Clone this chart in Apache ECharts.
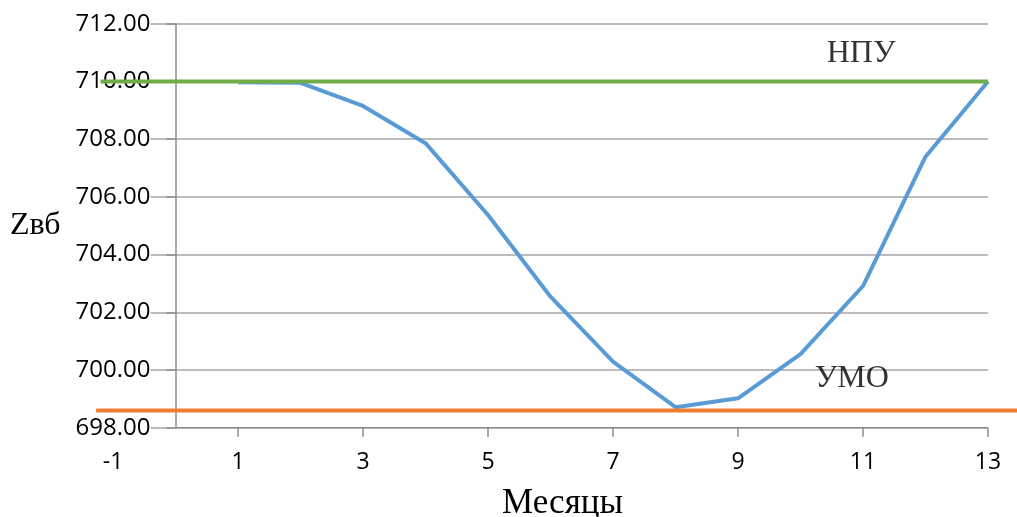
<!DOCTYPE html>
<html>
<head>
<meta charset="utf-8">
<style>
  html, body { margin: 0; padding: 0; background: #ffffff; }
  #chart { width: 1017px; height: 517px; }
</style>
<script src="https://cdn.jsdelivr.net/npm/echarts@6/dist/echarts.min.js"></script>
</head>
<body>
<div id="chart"></div>
<script>
// Reservoir level by month
const months = [1, 2, 3, 4, 5, 6, 7, 8, 9, 10, 11, 12, 13];
const levels = [709.97, 709.95, 709.15, 707.86, 705.37, 702.54, 700.29, 698.71, 699.02, 700.55, 702.91, 707.39, 710.0];

// Reference levels: normal headwater (НПУ) and dead storage level (УМО)
const npuLevel = 710.0;
const umoLevel = 698.6;
const npuSpan = [-1.2, 13];
const umoSpan = [-1.27, 14.5];

// Axis settings
const xMin = -1, xMax = 13, xStep = 2;
const yMin = 698, yMax = 712, yStep = 2;
const xTickValues = [1, 3, 5, 7, 9, 11, 13];
const xAxisBaseSpan = [0.008, 13];

// Label anchors (data units)
const npuLabelAt = [10.97, 710.95];
const umoLabelAt = [10.82, 699.69];

const labelFont = 'Open Sans';
const serifFont = 'Liberation Serif';
const axisGray = '#8c8c8c';
const gridGray = '#a6a6a6';

const chartWidth = 1017;
const gridLeft = 113, gridRight = 29, gridTop = 23.7, gridBottom = 89.3;

const chart = echarts.init(document.getElementById('chart'), null, { renderer: 'canvas' });

// The vertical axis crosses the horizontal one at x = 0: shift it there
const plotWidth = chartWidth - gridLeft - gridRight;
const unitPx = plotWidth / (xMax - xMin);
const yAxisShift = unitPx * (0 - xMin);

// A second, full-width overlay grid with the same scale, for the level lines
// that run past the plot edges
const wideMin = xMin - gridLeft / unitPx;
const wideMax = xMax + gridRight / unitPx;

const option = {
  backgroundColor: '#ffffff',
  animation: false,
  grid: [
    { left: gridLeft, right: gridRight, top: gridTop, bottom: gridBottom, containLabel: false, outerBoundsMode: 'none' },
    { left: 0, right: 0, top: gridTop, bottom: gridBottom, containLabel: false, outerBoundsMode: 'none' }
  ],
  xAxis: [
    {
      type: 'value',
      gridIndex: 0,
      min: xMin, max: xMax, interval: xStep,
      name: 'Месяцы',
      nameLocation: 'middle',
      nameGap: 59,
      nameTextStyle: { fontFamily: serifFont, fontSize: 35, color: '#000', padding: [0, 0, 0, 24] },
      axisLine: { show: false },
      axisTick: { show: true, length: 9, customValues: xTickValues, lineStyle: { color: axisGray, width: 1.5 } },
      axisLabel: { margin: 23, fontFamily: labelFont, fontSize: 23, color: '#000' },
      splitLine: { show: false }
    },
    {
      type: 'value',
      gridIndex: 1,
      min: wideMin, max: wideMax,
      show: false
    }
  ],
  yAxis: [
    {
      type: 'value',
      gridIndex: 0,
      min: yMin, max: yMax, interval: yStep,
      z: 1,
      offset: -yAxisShift,
      name: 'Zвб',
      nameLocation: 'middle',
      nameRotate: 0,
      nameGap: 115,
      nameTextStyle: { fontFamily: serifFont, fontSize: 32, color: '#000' },
      axisLine: { show: true, onZero: false, lineStyle: { color: axisGray, width: 1.5 } },
      axisTick: { show: true, length: 9, lineStyle: { color: axisGray, width: 1.5 } },
      axisLabel: {
        margin: 25, fontFamily: labelFont, fontSize: 24, color: '#000',
        backgroundColor: '#ffffff',
        formatter: v => v.toFixed(2)
      },
      splitLine: { show: false }
    },
    {
      type: 'value',
      gridIndex: 0,
      min: yMin, max: yMax, interval: yStep,
      z: 0,
      position: 'right',
      axisLine: { show: false },
      axisTick: { show: false },
      axisLabel: { show: false },
      splitLine: { show: true, lineStyle: { color: gridGray, width: 1.5 } }
    },
    {
      type: 'value',
      gridIndex: 1,
      min: yMin, max: yMax,
      show: false
    }
  ],
  series: [
    {
      name: 'axis-base',
      type: 'line',
      xAxisIndex: 0, yAxisIndex: 0,
      symbol: 'none',
      silent: true,
      z: 1,
      lineStyle: { color: axisGray, width: 1.5 },
      data: [[xAxisBaseSpan[0], yMin], [xAxisBaseSpan[1], yMin]]
    },
    {
      name: 'Zвб',
      type: 'line',
      xAxisIndex: 0, yAxisIndex: 0,
      symbol: 'none',
      z: 3,
      lineStyle: { color: '#5b9bd5', width: 4 },
      data: months.map((m, i) => [m, levels[i]])
    },
    {
      name: 'НПУ',
      type: 'line',
      xAxisIndex: 1, yAxisIndex: 2,
      symbol: 'none',
      clip: false,
      z: 4,
      lineStyle: { color: '#70ad47', width: 4 },
      data: [[npuSpan[0], npuLevel], [npuSpan[1], npuLevel]]
    },
    {
      name: 'УМО',
      type: 'line',
      xAxisIndex: 1, yAxisIndex: 2,
      symbol: 'none',
      clip: false,
      z: 4,
      lineStyle: { color: '#ed7d31', width: 4 },
      data: [[umoSpan[0], umoLevel], [Math.min(umoSpan[1], wideMax), umoLevel]]
    },
    {
      name: 'labels',
      type: 'scatter',
      xAxisIndex: 0, yAxisIndex: 0,
      symbolSize: 0,
      silent: true,
      z: 5,
      label: {
        show: true, position: 'inside',
        fontFamily: serifFont, fontSize: 32, color: '#000',
        formatter: p => p.name
      },
      data: [
        { name: 'НПУ', value: npuLabelAt },
        { name: 'УМО', value: umoLabelAt }
      ]
    }
  ]
};

chart.setOption(option);
</script>
</body>
</html>
